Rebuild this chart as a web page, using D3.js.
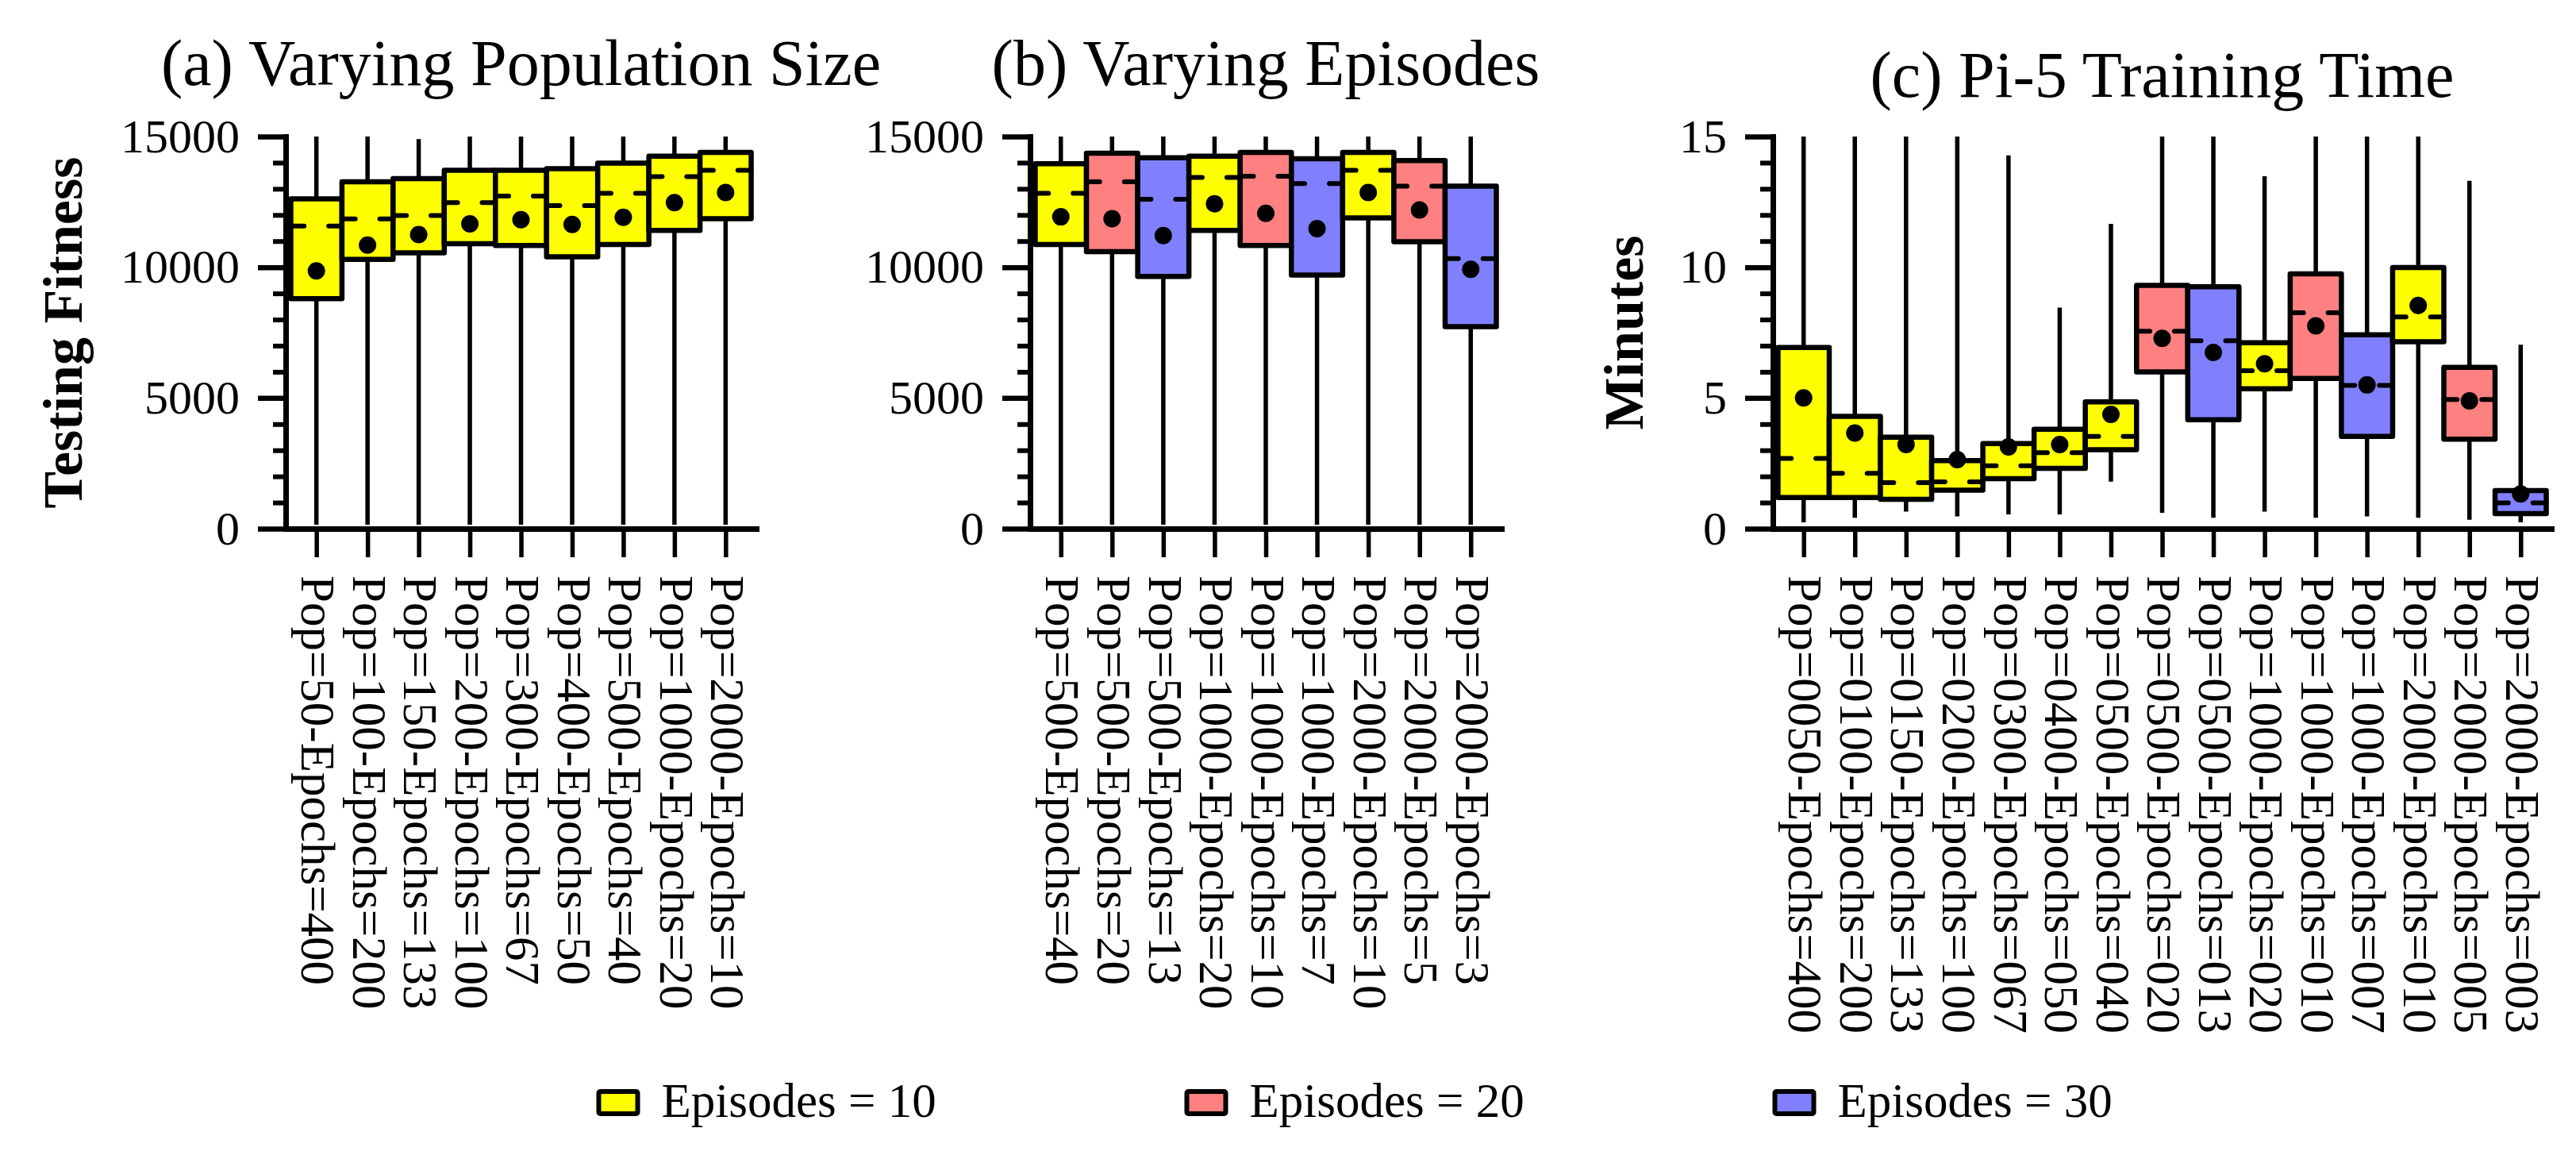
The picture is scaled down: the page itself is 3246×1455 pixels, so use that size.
<!DOCTYPE html>
<html><head><meta charset="utf-8">
<script src="https://cdn.jsdelivr.net/npm/d3@7"></script>
<style>
body{margin:0;background:#fff}
svg{display:block}
text{font-family:"Liberation Serif","Times New Roman",serif;fill:#000}
</style>
</head><body>
<svg id="chart" width="3246" height="1455"></svg>
<script>
// ---------------- DATA ----------------
const episodeLevels = [10, 20, 30];
const legendLabels = ["Episodes = 10", "Episodes = 20", "Episodes = 30"];

// (a) Varying Population Size
const labelsA = ["Pop=50-Epochs=400","Pop=100-Epochs=200","Pop=150-Epochs=133","Pop=200-Epochs=100","Pop=300-Epochs=67","Pop=400-Epochs=50","Pop=500-Epochs=40","Pop=1000-Epochs=20","Pop=2000-Epochs=10"];
const episodesA = [10,10,10,10,10,10,10,10,10];
const q1A   = [8800, 10300, 10550, 10900, 10830, 10400, 10870, 11410, 11860];
const q3A   = [12620, 13270, 13390, 13710, 13710, 13770, 13980, 14250, 14390];
const medA  = [11580, 11850, 11980, 12470, 12720, 12360, 12830, 13470, 13710];
const meanA = [9860, 10850, 11250, 11660, 11820, 11640, 11910, 12470, 12860];
const wLoA  = [150, 150, 150, 150, 150, 150, 150, 150, 150];
const wHiA  = [15000, 15000, 14900, 15000, 15000, 15000, 15000, 15000, 15000];

// (b) Varying Episodes
const labelsB = ["Pop=500-Epochs=40","Pop=500-Epochs=20","Pop=500-Epochs=13","Pop=1000-Epochs=20","Pop=1000-Epochs=10","Pop=1000-Epochs=7","Pop=2000-Epochs=10","Pop=2000-Epochs=5","Pop=2000-Epochs=3"];
const episodesB = [10,20,30,10,20,30,10,20,30];
const q1B   = [10870, 10600, 9650, 11410, 10830, 9700, 11890, 10980, 7730];
const q3B   = [13960, 14360, 14190, 14250, 14390, 14150, 14390, 14080, 13100];
const medB  = [12830, 13270, 12600, 13440, 13480, 13200, 13710, 13100, 10330];
const meanB = [11930, 11860, 11210, 12430, 12060, 11480, 12860, 12190, 9920];
const wLoB  = [150, 150, 150, 150, 150, 150, 150, 150, 150];
const wHiB  = [15000, 15000, 15000, 15000, 15000, 15000, 15000, 15000, 15000];

// (c) Pi-5 Training Time (minutes)
const labelsC = ["Pop=0050-Epochs=400","Pop=0100-Epochs=200","Pop=0150-Epochs=133","Pop=0200-Epochs=100","Pop=0300-Epochs=067","Pop=0400-Epochs=050","Pop=0500-Epochs=040","Pop=0500-Epochs=020","Pop=0500-Epochs=013","Pop=1000-Epochs=020","Pop=1000-Epochs=010","Pop=1000-Epochs=007","Pop=2000-Epochs=010","Pop=2000-Epochs=005","Pop=2000-Epochs=003"];
const episodesC = [10,10,10,10,10,10,10,20,30,10,20,30,10,20,30];
const q1C   = [1.19, 1.19, 1.12, 1.47, 1.91, 2.31, 3.02, 6.00, 4.17, 5.35, 5.75, 3.53, 7.15, 3.42, 0.58];
const q3C   = [6.93, 4.30, 3.50, 2.60, 3.26, 3.80, 4.85, 9.31, 9.25, 7.11, 9.75, 7.42, 9.99, 6.17, 1.46];
const medC  = [2.69, 2.12, 1.76, 1.79, 2.41, 2.91, 3.53, 7.55, 7.19, 6.04, 8.26, 5.48, 8.10, 4.94, 0.99];
const meanC = [5.00, 3.66, 3.22, 2.64, 3.13, 3.22, 4.37, 7.28, 6.74, 6.31, 7.76, 5.50, 8.54, 4.89, 1.33];
const wLoC  = [0.24, 0.42, 0.65, 0.47, 0.55, 0.55, 1.80, 0.61, 0.42, 0.65, 0.42, 0.47, 0.42, 0.34, 0.24];
const wHiC  = [15, 15, 15, 15, 14.28, 8.46, 11.66, 15, 15, 13.48, 15, 15, 15, 13.31, 7.04];

// tick values
const majorTicksFit = [0, 5000, 10000, 15000];
const minorTicksFit = [1000,2000,3000,4000,6000,7000,8000,9000,11000,12000,13000,14000];
const majorTicksMin = [0, 5, 10, 15];
const minorTicksMin = [1,2,3,4,6,7,8,9,11,12,13,14];

// ---------------- DRAWING ----------------
const svg = d3.select("#chart");
const color = d3.scaleOrdinal().domain(episodeLevels).range(["#ffff00", "#ff8080", "#8080ff"]);

const plotTop = 172, plotBottom = 666;

function panel(cfg) {
  const n = cfg.labels.length;
  const y = d3.scaleLinear().domain([0, cfg.yMax]).range([plotBottom, plotTop]);
  const x = d3.scaleLinear().domain([-0.6, n - 0.4]).range([cfg.left, cfg.right]);
  const bw = x(1) - x(0);
  const g = svg.append("g");
  const idx = d3.range(n);
  const clampY = v => y(Math.max(0, Math.min(cfg.yMax, v)));

  // whiskers
  g.selectAll("line.whisker").data(idx).join("line")
    .attr("x1", i => x(i)).attr("x2", i => x(i))
    .attr("y1", i => clampY(cfg.wHi[i])).attr("y2", i => clampY(cfg.wLo[i]))
    .attr("stroke", "#000").attr("stroke-width", 5.5);

  // boxes
  g.selectAll("rect.box").data(idx).join("rect")
    .attr("x", i => x(i) - bw / 2).attr("width", bw)
    .attr("y", i => y(cfg.q3[i])).attr("height", i => y(cfg.q1[i]) - y(cfg.q3[i]))
    .attr("fill", i => color(cfg.episodes[i]))
    .attr("stroke", "#000").attr("stroke-width", 6.5).attr("stroke-linejoin", "round");

  // median (dashed: left & right segments)
  const seg = 0.26 * bw;
  g.selectAll("line.medL").data(idx).join("line")
    .attr("x1", i => x(i) - bw / 2).attr("x2", i => x(i) - bw / 2 + seg)
    .attr("y1", i => y(cfg.med[i])).attr("y2", i => y(cfg.med[i]))
    .attr("stroke", "#000").attr("stroke-width", 6).attr("stroke-linecap", "round");
  g.selectAll("line.medR").data(idx).join("line")
    .attr("x1", i => x(i) + bw / 2 - seg).attr("x2", i => x(i) + bw / 2)
    .attr("y1", i => y(cfg.med[i])).attr("y2", i => y(cfg.med[i]))
    .attr("stroke", "#000").attr("stroke-width", 6).attr("stroke-linecap", "round");

  // mean dots
  g.selectAll("circle.mean").data(idx).join("circle")
    .attr("cx", i => x(i)).attr("cy", i => y(cfg.mean[i])).attr("r", 11)
    .attr("fill", "#000");

  // y axis minor
  const yMinor = g.append("g").attr("transform", `translate(${cfg.left},0)`)
    .call(d3.axisLeft(y).tickValues(cfg.minor).tickSize(16).tickFormat("").tickSizeOuter(0));
  yMinor.select(".domain").remove();
  yMinor.selectAll(".tick line").attr("stroke-width", 6);

  // y axis major
  const yMajor = g.append("g").attr("transform", `translate(${cfg.left},0)`)
    .call(d3.axisLeft(y).tickValues(cfg.major).tickFormat(d3.format("d"))
      .tickSize(35).tickPadding(23).tickSizeOuter(0));
  yMajor.attr("font-size", null).attr("font-family", null);
  yMajor.select(".domain").attr("stroke-width", 7).attr("stroke-linecap", "square");
  yMajor.selectAll(".tick line").attr("stroke-width", 6.5);
  yMajor.selectAll(".tick text").style("font-size", "60px");

  // x axis
  const xAx = g.append("g").attr("transform", `translate(0,${plotBottom})`)
    .call(d3.axisBottom(x).tickValues(idx).tickSize(36).tickFormat("").tickSizeOuter(0));
  xAx.select(".domain").attr("stroke-width", 7).attr("stroke-linecap", "square");
  xAx.selectAll(".tick line").attr("stroke-width", 5.5);

  // x labels (rotated, top-to-bottom)
  g.selectAll("text.xlab").data(idx).join("text")
    .attr("transform", i => `translate(${x(i)},725) rotate(90)`)
    .attr("dy", "0.3em")
    .attr("text-anchor", "start")
    .style("font-size", "61px")
    .text(i => cfg.labels[i]);

  // title
  g.append("text")
    .attr("x", (cfg.left + cfg.right) / 2).attr("y", cfg.titleY)
    .attr("text-anchor", "middle").style("font-size", "82px")
    .text(cfg.title);

  // y label
  if (cfg.yLabel) {
    g.append("text")
      .attr("transform", `translate(${cfg.yLabelX},${(plotTop + plotBottom) / 2}) rotate(-90)`)
      .attr("text-anchor", "middle")
      .style("font-size", "70px").style("font-weight", "bold")
      .text(cfg.yLabel);
  }
}

panel({labels: labelsA, episodes: episodesA, q1: q1A, q3: q3A, med: medA, mean: meanA, wLo: wLoA, wHi: wHiA,
  yMax: 15000, major: majorTicksFit, minor: minorTicksFit, left: 360, right: 953,
  title: "(a) Varying Population Size", titleY: 107, yLabel: "Testing Fitness", yLabelX: 103});
panel({labels: labelsB, episodes: episodesB, q1: q1B, q3: q3B, med: medB, mean: meanB, wLo: wLoB, wHi: wHiB,
  yMax: 15000, major: majorTicksFit, minor: minorTicksFit, left: 1298, right: 1892,
  title: "(b) Varying Episodes", titleY: 107});
panel({labels: labelsC, episodes: episodesC, q1: q1C, q3: q3C, med: medC, mean: meanC, wLo: wLoC, wHi: wHiC,
  yMax: 15, major: majorTicksMin, minor: minorTicksMin, left: 2234, right: 3215,
  title: "(c) Pi-5 Training Time", titleY: 122, yLabel: "Minutes", yLabelX: 2070});

// legend
const legend = svg.append("g");
const legItems = legend.selectAll("g").data(episodeLevels).join("g")
  .attr("transform", (d, i) => `translate(${754.5 + i * 741},1375)`);
legItems.append("rect").attr("width", 49).attr("height", 28)
  .attr("fill", d => color(d)).attr("stroke", "#000").attr("stroke-width", 6).attr("rx", 2);
legItems.append("text").attr("x", 79).attr("y", 32).style("font-size", "61px")
  .text((d, i) => legendLabels[i]);
</script>
</body></html>
